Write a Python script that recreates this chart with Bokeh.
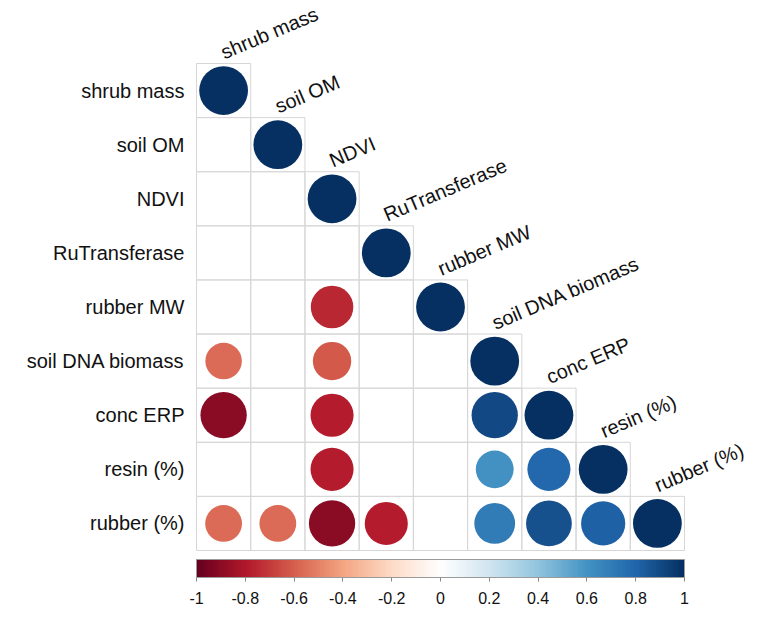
import numpy as np
from bokeh.plotting import figure
from bokeh.models import (ColumnDataSource, LinearColorMapper, ColorBar, FixedTicker,
                          NumeralTickFormatter, LabelSet, Range1d)
from bokeh.core.properties import value
from bokeh.embed import file_html
from bokeh.resources import INLINE

variables = ["shrub mass", "soil OM", "NDVI", "RuTransferase", "rubber MW",
             "soil DNA biomass", "conc ERP", "resin (%)", "rubber (%)"]

# lower triangle of the correlation matrix, None = not shown (non-significant)
corr_rows = [
    [1],
    [None, 1],
    [None, None, 1],
    [None, None, None, 1],
    [None, None, -0.76, None, 1],
    [-0.56, None, -0.62, None, None, 1],
    [-0.90, None, -0.78, None, None, 0.90, 1],
    [None, None, -0.78, None, None, 0.60, 0.78, 1],
    [-0.57, -0.57, -0.90, -0.78, None, 0.70, 0.88, 0.82, 1],
]

colorbar_ticks = [-1, -0.8, -0.6, -0.4, -0.2, 0, 0.2, 0.4, 0.6, 0.8, 1]

# corrplot COL2('RdBu') anchor colours, interpolated to 200 steps
anchors = ["#67001F", "#B2182B", "#D6604D", "#F4A582", "#FDDBC7", "#FFFFFF",
           "#D1E5F0", "#92C5DE", "#4393C3", "#2166AC", "#053061"]
def _hex(c):
    return np.array([int(c[i:i + 2], 16) for i in (1, 3, 5)], dtype=float)
anc = np.array([_hex(c) for c in anchors])
pos = np.linspace(0, 1, len(anchors))
palette = []
for t in np.linspace(0, 1, 200):
    rgb = [np.interp(t, pos, anc[:, k]) for k in range(3)]
    palette.append("#%02x%02x%02x" % tuple(int(round(v)) for v in rgb))

n = len(variables)
cell_x, cell_y, cx, cy, cr, cv = [], [], [], [], [], []
for i, row in enumerate(corr_rows):
    for j, r in enumerate(row):
        cell_x.append(j + 0.5)
        cell_y.append(n - i - 0.5)
        if r is not None:
            cx.append(j + 0.5)
            cy.append(n - i - 0.5)
            cv.append(r)
            cr.append(0.45 * np.sqrt(abs(r)))

mapper = LinearColorMapper(palette=palette, low=-1, high=1)

W, H = 760, 629
gx0, gx1, gy0, gy1 = 196, 684, 63, 550   # grid pixel box
ux = (gx1 - gx0) / n
uy = (gy1 - gy0) / n
xr = Range1d(-gx0 / ux, n + (W - gx1) / ux)
yr = Range1d(-(H - gy1) / uy, n + gy0 / uy)

p = figure(width=W, height=H, output_backend="svg", toolbar_location=None,
           x_range=xr, y_range=yr, x_axis_type=None, y_axis_type=None,
           min_border=0)
p.grid.visible = False
p.outline_line_color = None
p.background_fill_color = "white"

p.rect(x=cell_x, y=cell_y, width=1, height=1, fill_color=None,
       line_color="#d6d6d6", line_width=1)

src = ColumnDataSource(dict(x=cx, y=cy, r=cr, v=cv))
p.circle(x="x", y="y", radius="r", source=src,
         fill_color={"field": "v", "transform": mapper}, line_color=None)

FONT = value("Liberation Sans")
left_src = ColumnDataSource(dict(x=[0] * n, y=[n - i - 0.5 for i in range(n)], t=variables))
p.add_layout(LabelSet(x="x", y="y", text="t", source=left_src, x_offset=-12,
                      text_align="right", text_baseline="middle",
                      text_font=FONT, text_font_size="20px",
                      text_color="#111111"))

top_src = ColumnDataSource(dict(x=[i + 0.5 for i in range(n)], y=[n - i for i in range(n)], t=variables))
p.add_layout(LabelSet(x="x", y="y", text="t", source=top_src, y_offset=4, x_offset=1,
                      angle=0.40, text_align="left", text_baseline="alphabetic",
                      text_font=FONT, text_font_size="20px",
                      text_color="#111111"))

cb = ColorBar(color_mapper=mapper, orientation="horizontal", height=18, width=gx1 - gx0,
              padding=0, location=(gx0, 23),
              ticker=FixedTicker(ticks=colorbar_ticks),
              formatter=NumeralTickFormatter(format="0.[0]"),
              major_tick_out=4, major_tick_in=0, major_tick_line_color="#888888",
              bar_line_color="#9a9a9a", label_standoff=10,
              major_label_text_font="Liberation Sans",
              major_label_text_font_size="16px", major_label_text_color="#111111",
              background_fill_color=None, border_line_color=None)
p.add_layout(cb, "center")

open("out.html", "w").write(file_html(p, INLINE))
